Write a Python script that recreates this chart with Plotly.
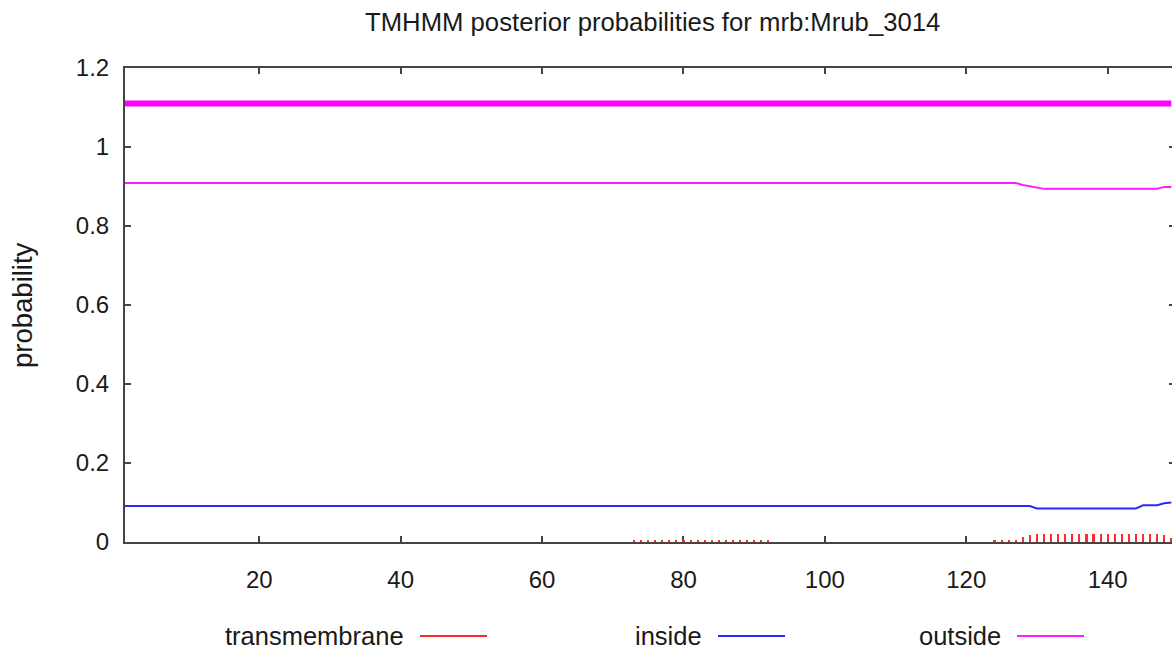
import plotly.graph_objects as go

# ---------------- data ----------------
seq_start = 1
seq_end = 149.1

topology_res = [1, 149]
topology_prob = [1.11, 1.11]

outside_res = [1, 127, 128, 129, 130, 131, 146, 147, 148, 149]
outside_prob = [0.909, 0.909, 0.904, 0.901, 0.897, 0.894, 0.894, 0.894, 0.899, 0.899]

inside_res = [1, 129, 130, 144, 145, 146, 147, 148, 149]
inside_prob = [0.091, 0.091, 0.085, 0.085, 0.093, 0.093, 0.093, 0.098, 0.100]

tm_res = [73, 74, 75, 76, 77, 78, 79, 80, 81, 82, 83, 84, 85, 86, 87, 88, 89, 90, 91, 92,
          124, 125, 126, 127, 128, 129, 130, 131, 132, 133, 134, 135, 136, 137, 138, 139,
          140, 141, 142, 143, 144, 145, 146, 147, 148, 149]
tm_prob = [0.004, 0.004, 0.004, 0.004, 0.004, 0.004, 0.004, 0.004, 0.004, 0.004,
           0.004, 0.004, 0.004, 0.004, 0.004, 0.004, 0.004, 0.004, 0.004, 0.004,
           0.005, 0.005, 0.005, 0.006, 0.012, 0.017, 0.021, 0.021, 0.021, 0.021,
           0.021, 0.021, 0.021, 0.021, 0.021, 0.021, 0.021, 0.021, 0.021, 0.021,
           0.021, 0.021, 0.021, 0.021, 0.017, 0.010]

x_ticks = [20, 40, 60, 80, 100, 120, 140]
y_ticks = [0, 0.2, 0.4, 0.6, 0.8, 1, 1.2]
y_ticktext = ["0", "0.2", "0.4", "0.6", "0.8", "1", "1.2"]

legend_names = ["transmembrane", "inside", "outside"]
colors = {"transmembrane": "#ff2a2a", "inside": "#2a2aff", "outside": "#ff1aff"}

title_text = "TMHMM posterior probabilities for mrb:Mrub_3014"
y_title = "probability"

# ---------------- figure ----------------
W, H = 1172, 650
ML, MR, MT, MB = 125, 0, 68, 108
FONT = "Liberation Sans, Arial, sans-serif"
TXT = "#1a1a1a"

fig = go.Figure()

fig.add_trace(go.Bar(x=tm_res, y=tm_prob, width=0.3,
                     marker=dict(color=colors["transmembrane"], line=dict(width=0)),
                     name=legend_names[0], showlegend=False))
fig.add_trace(go.Scatter(x=inside_res, y=inside_prob, mode="lines",
                         line=dict(color=colors["inside"], width=2),
                         name=legend_names[1], showlegend=False))
fig.add_trace(go.Scatter(x=outside_res, y=outside_prob, mode="lines",
                         line=dict(color=colors["outside"], width=2),
                         name=legend_names[2], showlegend=False))
fig.add_trace(go.Scatter(x=topology_res, y=topology_prob, mode="lines",
                         line=dict(color="#ff00ff", width=6),
                         yaxis="y2", showlegend=False))

axis_color = "#444444"
fig.update_layout(
    width=W, height=H,
    margin=dict(l=ML, r=MR, t=MT, b=MB, pad=0),
    paper_bgcolor="white", plot_bgcolor="white",
    font=dict(family=FONT, size=24, color=TXT),
    showlegend=False,
    bargap=0,
    xaxis=dict(range=[seq_start, seq_end], tickvals=x_ticks,
               showgrid=False, zeroline=False,
               showline=True, linecolor=axis_color, linewidth=2,
               mirror="ticks", ticks="inside", ticklen=6, tickwidth=1.5,
               tickcolor=axis_color, layer="below traces",
               ticklabelstandoff=15,
               tickfont=dict(size=24, family=FONT, color=TXT)),
    yaxis=dict(range=[0, 1.2], tickvals=y_ticks, ticktext=y_ticktext,
               showgrid=False, zeroline=False,
               showline=True, linecolor=axis_color, linewidth=2,
               mirror=False, ticks="inside", ticklen=6, tickwidth=1.5,
               tickcolor=axis_color, layer="below traces",
               ticklabelstandoff=9,
               tickfont=dict(size=24, family=FONT, color=TXT)),
    yaxis2=dict(range=[0, 1.2], tickvals=y_ticks, overlaying="y", side="right",
                showgrid=False, zeroline=False, showline=False,
                showticklabels=False, ticks="inside", ticklen=3, tickwidth=1.5,
                tickcolor=axis_color),
)

plot_w = W - ML - MR
plot_h = H - MT - MB

def px_x(px):
    return (px - ML) / plot_w

def px_y(py):
    return (H - MB - py) / plot_h

annotations = [
    dict(text=title_text, xref="paper", yref="paper", x=px_x(652), y=px_y(22),
         xanchor="center", yanchor="middle", showarrow=False,
         font=dict(size=25.7, family=FONT, color=TXT)),
    dict(text=y_title, xref="paper", yref="paper", x=px_x(22), y=px_y(305),
         xanchor="center", yanchor="middle", textangle=-90, showarrow=False,
         font=dict(size=27.5, family=FONT, color=TXT)),
]
shapes = []
sample_left = [420, 718, 1017]
sample_len = 67
legend_y = 636
for name, sl in zip(legend_names, sample_left):
    annotations.append(dict(text=name, xref="paper", yref="paper",
                            x=px_x(sl - 14), y=px_y(legend_y),
                            xanchor="right", yanchor="middle", showarrow=False,
                            font=dict(size=25.5, family=FONT, color=TXT)))
    shapes.append(dict(type="line", xref="paper", yref="paper",
                       x0=px_x(sl), x1=px_x(sl + sample_len),
                       y0=px_y(legend_y), y1=px_y(legend_y),
                       line=dict(color=colors[name], width=2)))

fig.update_layout(annotations=annotations, shapes=shapes)

fig.write_html("out.html")
